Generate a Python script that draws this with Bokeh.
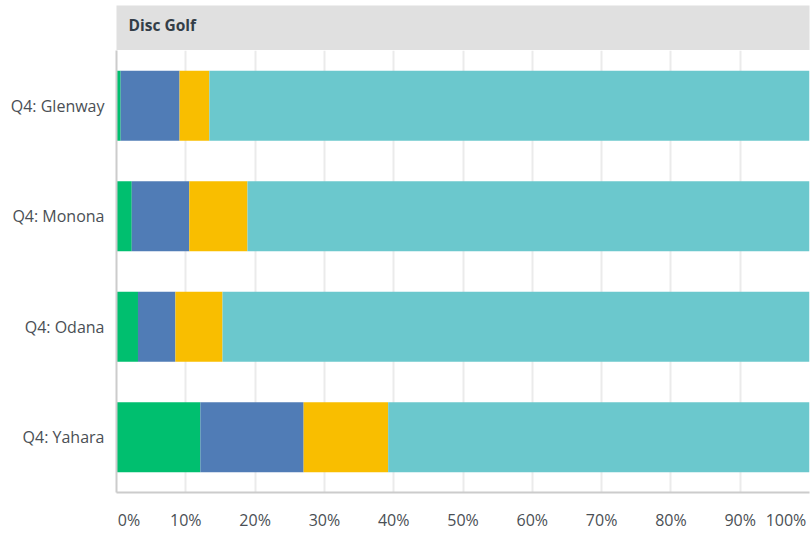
from bokeh.plotting import figure
from bokeh.models import Range1d, FactorRange, FixedTicker, Label
from bokeh.layouts import column
from bokeh.embed import file_html
from bokeh.resources import INLINE

# ---- data (percent of responses) ----
title_text = "Disc Golf"
categories = ["Q4: Glenway", "Q4: Monona", "Q4: Odana", "Q4: Yahara"]
series_names = ["s1", "s2", "s3", "s4"]
s1 = [0.6, 2.2, 3.1, 12.1]
s2 = [8.5, 8.3, 5.4, 14.9]
s3 = [4.3, 8.4, 6.8, 12.2]
s4 = [86.6, 81.1, 84.7, 60.8]
tick_values = [0, 10, 20, 30, 40, 50, 60, 70, 80, 90, 100]
tick_labels = ["0%", "10%", "20%", "30%", "40%", "50%", "60%", "70%", "80%", "90%", "100%"]

colors = ["#00bf6f", "#507cb6", "#f9be00", "#6bc8cd"]
FONT = "Open Sans"
W = 810
LEFT = 116
RIGHT = 1

# ---- header strip ----
hdr = figure(width=W, height=50, x_range=Range1d(0, 1), y_range=Range1d(0, 1),
             x_axis_location=None, y_axis_location=None,
             min_border_left=LEFT, min_border_right=RIGHT, min_border_top=5, min_border_bottom=0,
             background_fill_color="#e0e0e0", border_fill_color="white",
             outline_line_color=None, toolbar_location=None, output_backend="svg")
hdr.xgrid.visible = False
hdr.ygrid.visible = False
hdr.add_layout(Label(x=12, y=0.56, x_units="screen", y_units="data", text=title_text,
                     text_font=FONT, text_font_style="bold", text_font_size="15.5px",
                     text_color="#333e48", text_baseline="middle", text_align="left"))

# ---- main chart ----
data = {"cat": categories, "s1": s1, "s2": s2, "s3": s3, "s4": s4}
p = figure(width=W, height=483, y_range=FactorRange(*reversed(categories)),
           x_range=Range1d(0, 100),
           min_border_left=LEFT, min_border_right=RIGHT, min_border_top=0, min_border_bottom=41,
           outline_line_color=None, toolbar_location=None, output_backend="svg",
           background_fill_color="white", border_fill_color="white")
p.hbar_stack(series_names, y="cat", height=0.633, color=colors, line_width=0, source=data)

p.xaxis.ticker = FixedTicker(ticks=tick_values)
overrides = {v: l for v, l in zip(tick_values, tick_labels)}
overrides[tick_values[0]] = "\u00a0" * 6 + tick_labels[0]
overrides[tick_values[-1]] = tick_labels[-1] + "\u00a0"
p.xaxis.major_label_overrides = overrides
p.xaxis.axis_line_color = "#cccccc"
p.xaxis.axis_line_width = 2
p.xaxis.major_tick_line_color = None
p.xaxis.major_tick_out = 0
p.xaxis.major_tick_in = 0
p.xaxis.minor_tick_line_color = None
p.xaxis.major_label_standoff = 16
p.xaxis.major_label_text_font = FONT
p.xaxis.major_label_text_font_size = "16px"
p.xaxis.major_label_text_color = "#4a4f55"

p.yaxis.axis_line_color = "#cccccc"
p.yaxis.axis_line_width = 2
p.yaxis.major_tick_line_color = None
p.yaxis.major_tick_out = 0
p.yaxis.major_tick_in = 0
p.yaxis.minor_tick_line_color = None
p.yaxis.major_label_standoff = 12
p.yaxis.major_label_text_font = FONT
p.yaxis.major_label_text_font_size = "16px"
p.yaxis.major_label_text_color = "#4a4f55"

p.xgrid.grid_line_color = "#ebebeb"
p.xgrid.grid_line_width = 2
p.ygrid.grid_line_color = None

layout = column(hdr, p, spacing=0)
open("out.html", "w").write(file_html(layout, INLINE))
